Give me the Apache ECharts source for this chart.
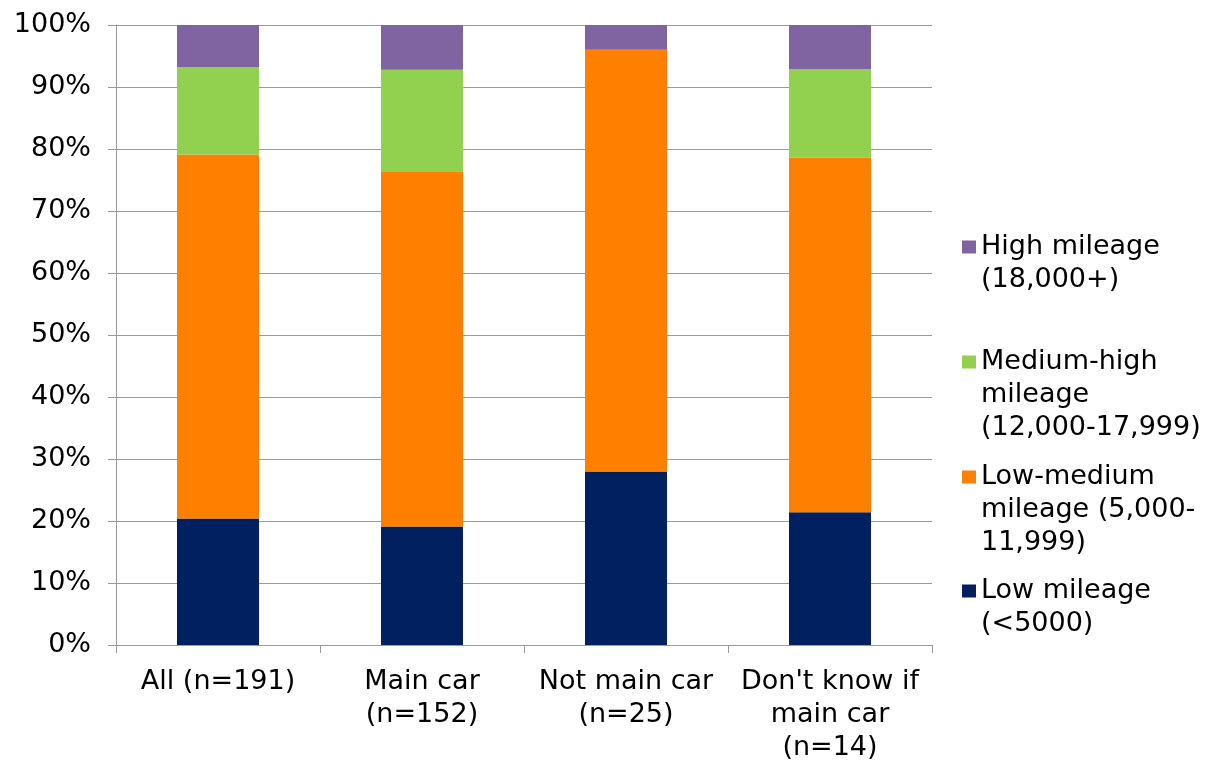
<!DOCTYPE html>
<html>
<head>
<meta charset="utf-8">
<script src="https://cdn.jsdelivr.net/npm/echarts@6/dist/echarts.min.js"></script>
<style>
html,body{margin:0;padding:0;background:#fff;overflow:hidden;}
#chart{position:absolute;left:0;top:0;width:1208px;height:764px;}
</style>
</head>
<body>
<div id="chart"></div>
<script>
var categories = ["All (n=191)", "Main car\n(n=152)", "Not main car\n(n=25)", "Don't know if\nmain car\n(n=14)"];
var lowMileage = [20.4, 19.1, 28.0, 21.4];
var lowMediumMileage = [58.7, 57.3, 68.0, 57.2];
var mediumHighMileage = [14.1, 16.4, 0, 14.3];
var highMileage = [6.8, 7.2, 4.0, 7.1];
var seriesNames = ["Low mileage", "Low-medium mileage", "Medium-high mileage", "High mileage"];
var legendLabels = ["Low mileage\n(<5000)", "Low-medium\nmileage (5,000-\n11,999)", "Medium-high\nmileage\n(12,000-17,999)", "High mileage\n(18,000+)"];
var colors = ["#002060", "#FF8000", "#92D050", "#8064A2"];
var yTicks = [0, 10, 20, 30, 40, 50, 60, 70, 80, 90, 100];

var FONT = "DejaVu Sans, Verdana, sans-serif";
var FS = 27;
var LH = 33;
var seriesData = [lowMileage, lowMediumMileage, mediumHighMileage, highMileage];

var legendOrder = [3, 2, 1, 0];
var legendCenters = [247, 362, 477, 591];

var legends = legendOrder.map(function (si, k) {
  var lines = legendLabels[si].split("\n").length;
  var pad = "";
  for (var j = 0; j < lines - 1; j++) pad += "\u00a0\n";
  var total = 2 * lines - 1;
  return {
    data: [seriesNames[si]],
    left: 962,
    top: legendCenters[k] - total * LH / 2,
    padding: 0,
    itemWidth: 14,
    itemHeight: 13,
    icon: "rect",
    selectedMode: false,
    formatter: function () { return pad + legendLabels[si]; },
    textStyle: {
      fontFamily: FONT,
      fontSize: FS,
      lineHeight: LH,
      color: "#000"
    }
  };
});

var chart = echarts.init(document.getElementById("chart"), null, {renderer: "canvas"});
chart.setOption({
  animation: false,
  backgroundColor: "#fff",
  color: colors,
  grid: {left: 116, right: 276, top: 25, bottom: 114, containLabel: false},
  legend: legends,
  xAxis: {
    type: "category",
    data: categories,
    axisLine: {lineStyle: {color: "#9A9A9A", width: 1}},
    axisTick: {show: true, length: 8, lineStyle: {color: "#9A9A9A"}},
    axisLabel: {
      interval: 0,
      margin: 20,
      fontFamily: FONT,
      fontSize: FS,
      lineHeight: LH,
      color: "#000"
    }
  },
  yAxis: {
    type: "value",
    min: yTicks[0],
    max: yTicks[yTicks.length - 1],
    interval: 10,
    axisLine: {show: true, lineStyle: {color: "#9A9A9A", width: 1}},
    axisTick: {show: true, length: 8, lineStyle: {color: "#9A9A9A"}},
    splitLine: {show: true, lineStyle: {color: "#9A9A9A", width: 1}},
    axisLabel: {
      margin: 25,
      fontFamily: FONT,
      fontSize: FS,
      color: "#000",
      formatter: "{value}%"
    }
  },
  series: seriesNames.map(function (n, i) {
    return {
      name: n,
      type: "bar",
      stack: "total",
      barWidth: 82,
      data: seriesData[i],
      itemStyle: {color: colors[i]}
    };
  })
});
</script>
</body>
</html>
